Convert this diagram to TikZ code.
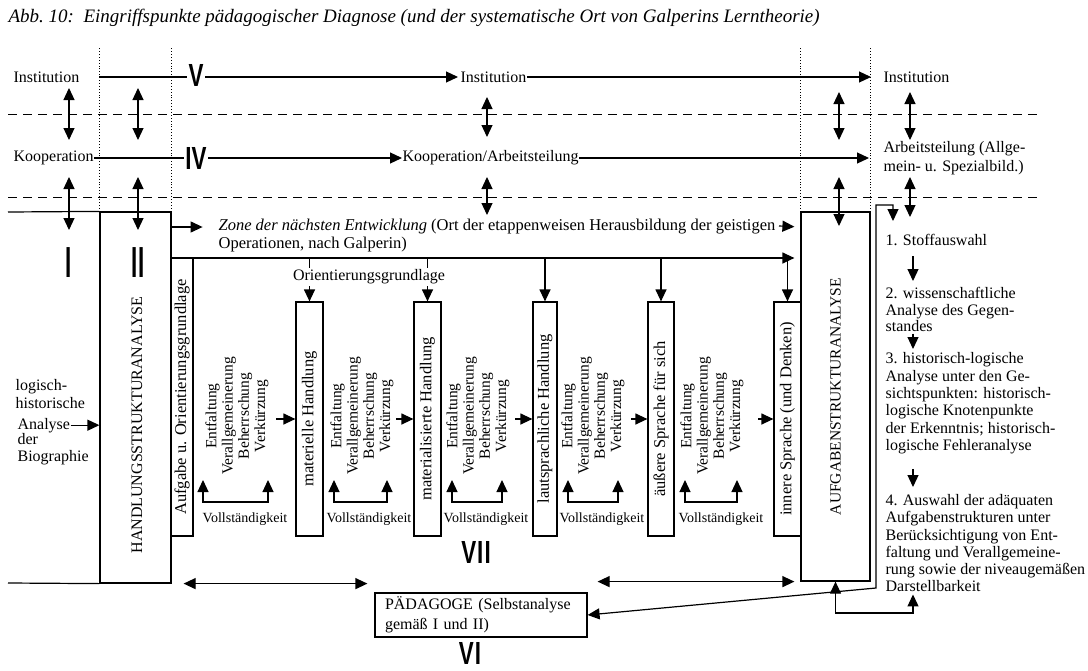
\documentclass[tikz,border=0pt]{standalone}
\usepackage{fontspec}
\setmainfont{Liberation Serif}
\setsansfont{Liberation Sans}
\usetikzlibrary{arrows.meta}

\tikzset{
	arr/.style={-{Triangle[length=12pt,width=11pt]}},
	darr/.style={{Triangle[length=12pt,width=11pt]}-{Triangle[length=12pt,width=11pt]}},
	box/.style={draw, inner sep=0pt},
	stage/.style={box, rotate=90, minimum width=234pt, minimum height=26pt, font=\fontsize{16.5}{18}\selectfont},
	txt/.style={inner sep=0pt, font=\fontsize{16}{18}\selectfont},
	steps/.style={txt, rotate=90, align=center, font=\fontsize{15.5}{16.3}\selectfont},
	small/.style={txt, font=\fontsize{14}{16}\selectfont},
	numeral/.style={font=\sffamily\bfseries\fontsize{32}{32}\selectfont, inner sep=1.5pt, xscale=.7, transform shape},
	dotline/.style={line width=.9pt, dotted},
	dashline/.style={line width=1pt, dash pattern=on 9pt off 6pt}
}

\begin{document}
\begin{tikzpicture}[x=1pt, y=1pt, line width=1.2pt]
		\useasboundingbox (0,0) rectangle (1088,-670);

		\coordinate (rowinst) at (0,-77);
		\coordinate (rowzone) at (0,-227);
		\coordinate (rowog) at (0,-258);
		\coordinate (rowlow) at (0,-613);
		\coordinate (colr) at (913,0);

		\node [txt, anchor=base west, font=\itshape\fontsize{19}{19}\selectfont] (title) at (8,-22) {Abb.~10:\ \ Eingriffspunkte pädagogischer Diagnose (und der systematische Ort von Galperins Lerntheorie)};

		\node [box, minimum width=71pt, minimum height=371pt] (hsa) at (135.5,-397.5) {};
		\node [txt, rotate=90] (hsatext) at (137,-425) {HANDLUNGSSTRUKTURANALYSE};
		\draw (8,-212) -- (hsa.north west);
		\draw (8,-583) -- (hsa.south west);

		\node [box, rotate=90, minimum width=369pt, minimum height=69pt, font=\fontsize{15.5}{18}\selectfont] (asa) at (835.5,-396.5) {AUFGABENSTRUKTURANALYSE};

		\draw [dotline] (hsa.north west) -- ++(0,164);
		\draw [dotline] (hsa.north east) -- ++(0,164);
		\draw [dotline] (asa.north east) -- ++(0,164);
		\draw [dotline] (asa.south east) -- ++(0,164);

		\draw [dashline] (8,-114) -- (1037,-114);
		\draw [dashline] (8,-197) -- (1037,-197);

		\node [txt, anchor=west] (inst1) at (13,-77) {Institution};
		\node [txt, anchor=west] (inst2) at (460,-77) {Institution};
		\node [txt, anchor=west] (inst3) at (883,-77) {Institution};
		\draw [arr, shorten >=2pt] (hsa.north west |- rowinst) -- (inst2.west);
		\draw [arr, shorten >=12pt] (inst2.east) -- (inst3.west);
		\node [numeral, fill=white] (nV) at (196,-75) {V};

		\node [txt, anchor=west] (koop1) at (13,-158) {Kooperation};
		\node [txt, anchor=west] (koop2) at (402,-158) {Kooperation/Arbeitsteilung};
		\node [txt, anchor=north west, align=left, font=\fontsize{16}{19}\selectfont] (arb) at (883,-140.5) {Arbeitsteilung (Allge-\\mein- u. Spezialbild.)};
		\draw [arr] (koop1.east) -- (koop2.west);
		\draw [arr, shorten >=14pt] (koop2.east) -- (arb.west |- koop2.east);
		\node [numeral, fill=white] (nIV) at (196,-158) {IV};

		\draw [darr] (69,-88) -- (69,-140);
		\draw [darr] (69,-177) -- (69,-230);
		\draw [darr] (138,-88) -- (138,-140);
		\draw [darr] (138,-177) -- (138,-230);
		\draw [darr] (487,-97) -- (487,-137);
		\draw [darr] (487,-177) -- (487,-215);
		\draw [darr] (839,-92) -- (839,-140);
		\draw [darr] (839,-177) -- (839,-226);
		\draw [darr] (910,-92) -- (910,-140);
		\draw [darr] (910,-177) -- (910,-217);

		\node [numeral, yscale=1.36] (nI) at (69,-263) {I};
		\node [numeral, yscale=1.36] (nII) at (138,-263) {II};

		\node [txt, anchor=north west, align=left, font=\fontsize{16.5}{18}\selectfont] (zone) at (218,-218) {\textit{Zone der nächsten Entwicklung} (Ort der etappenweisen Herausbildung der geistigen\\Operationen, nach Galperin)};
		\draw [arr] (hsa.east |- rowzone) -- ++(31,0);
		\draw [arr, shorten >=6pt] (779,-226) -- (asa.north |- rowzone);
		\draw [arr, shorten >=6pt] (hsa.east |- rowog) -- (asa.north |- rowog);

		\node [stage, minimum width=278pt, minimum height=22pt] (aog) at (182,-397) {Aufgabe u. Orientierungsgrundlage};
		\node [stage, minimum height=27pt] (mh) at (309.5,-419) {materielle Handlung};
		\node [stage, minimum height=27pt] (mzh) at (427.5,-419) {materialisierte Handlung};
		\node [stage, minimum height=24pt] (lh) at (545,-419) {lautsprachliche Handlung};
		\node [stage, minimum height=26pt] (ash) at (661,-419) {äußere Sprache für sich};
		\node [stage, minimum height=27pt] (ish) at (787.5,-419) {innere Sprache (und Denken)};

		\draw [arr] (mh.east |- rowog) -- (mh.east);
		\draw [arr] (mzh.east |- rowog) -- (mzh.east);
		\draw [arr] (lh.east |- rowog) -- (lh.east);
		\draw [arr] (ash.east |- rowog) -- (ash.east);
		\draw [arr] (ish.east |- rowog) -- (ish.east);
		\node [txt, fill=white, inner ysep=2pt] (ogl) at (369,-277) {Orientierungsgrundlage};

		\draw [arr] ([xshift=-19pt]mh.north) -- (mh.north);
		\draw [arr] ([xshift=-17pt]mzh.north) -- (mzh.north);
		\draw [arr] ([xshift=-17pt]lh.north) -- (lh.north);
		\draw [arr] ([xshift=-16pt]ash.north) -- (ash.north);
		\draw [arr] ([xshift=-15pt]ish.north) -- (ish.north);

		\node [steps] (g1) at (237,-416) {Entfaltung\\Verallgemeinerung\\Beherrschung\\Verkürzung};
		\node [steps] (g2) at (362,-416) {Entfaltung\\Verallgemeinerung\\Beherrschung\\Verkürzung};
		\node [steps] (g3) at (478,-416) {Entfaltung\\Verallgemeinerung\\Beherrschung\\Verkürzung};
		\node [steps] (g4) at (593,-416) {Entfaltung\\Verallgemeinerung\\Beherrschung\\Verkürzung};
		\node [steps] (g5) at (712,-416) {Entfaltung\\Verallgemeinerung\\Beherrschung\\Verkürzung};

		\draw [darr] (203,-480) -- (203,-502) -- (268,-502) -- (268,-480);
		\draw [darr] (334,-480) -- (334,-502) -- (387,-502) -- (387,-480);
		\draw [darr] (452,-480) -- (452,-502) -- (502,-502) -- (502,-480);
		\draw [darr] (568,-480) -- (568,-502) -- (618,-502) -- (618,-480);
		\draw [darr] (685,-480) -- (685,-502) -- (737,-502) -- (737,-480);
		\node [small] (v1) at (245,-519) {Vollständigkeit};
		\node [small] (v2) at (369,-519) {Vollständigkeit};
		\node [small] (v3) at (486,-519) {Vollständigkeit};
		\node [small] (v4) at (602,-519) {Vollständigkeit};
		\node [small] (v5) at (721,-519) {Vollständigkeit};

		\node [numeral] (nVII) at (476,-552) {V\kern1.5pt I\kern1.5pt I};

		\node [txt, anchor=north west, align=left] (logi) at (15,-379) {logisch-\\historische};
		\node [txt, anchor=base west] (ana) at (17,-429) {Analyse};
		\node [txt, anchor=north west, align=left, font=\fontsize{16}{17}\selectfont] (bio) at (17,-433) {der\\Biographie};
		\draw [arr] (ana.east) -- (hsa.west |- ana.east);

		\node [txt, anchor=north west] (s1) at (885,-233.5) {1. Stoffauswahl};
		\node [txt, anchor=north west, align=left, font=\fontsize{16}{16.5}\selectfont] (s2) at (885,-287) {2. wissenschaftliche\\Analyse des Gegen-\\standes};
		\node [txt, anchor=north west, align=left, font=\fontsize{16}{17.4}\selectfont] (s3) at (885,-352) {3. historisch-logische\\Analyse unter den Ge-\\sichtspunkten: historisch-\\logische Knotenpunkte\\der Erkenntnis; historisch-\\logische Fehleranalyse};
		\node [txt, anchor=north west, align=left, font=\fontsize{16}{17.2}\selectfont] (s4) at (885,-494) {4. Auswahl der adäquaten\\Aufgabenstrukturen unter\\Berücksichtigung von Ent-\\faltung und Verallgemeine-\\rung sowie der niveaugemäßen\\Darstellbarkeit};
		\draw [arr, shorten <=10pt, shorten >=6pt] (s1.south -| colr) -- (s2.north -| colr);
		\draw [arr, shorten <=1pt, shorten >=3pt] (s2.south -| colr) -- (s3.north -| colr);
		\draw [arr, shorten <=14pt, shorten >=7pt] (s3.south -| colr) -- (s4.north -| colr);

		\node [box, align=left, text width=192pt, inner xsep=10pt, minimum height=44pt, font=\fontsize{16}{20}\selectfont] (ped) at (481,-615) {PÄDAGOGE (Selbstanalyse\\gemäß I und II)};
		\node [numeral] (nVI) at (470,-653) {V\kern1.5pt I};

		\draw [darr, shorten <=12pt, shorten >=7pt] (hsa.south east) -- (ped.north west |- hsa.south east);
		\draw [darr, shorten <=10pt, shorten >=6pt] (ped.north east |- asa.north west) -- (asa.north west);
		\draw [darr] (asa.west) -- (asa.west |- rowlow) -| ([yshift=-2pt]s4.south -| colr);
		\draw [darr] (893,-221) -- (893,-205) -- (876,-205) -- (876,-588) -- (ped.east);

	\end{tikzpicture}
\end{document}
